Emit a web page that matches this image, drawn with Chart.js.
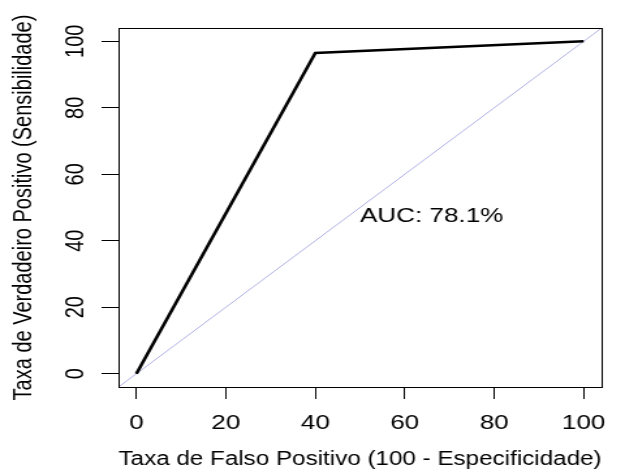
<!DOCTYPE html>
<html>
<head>
<meta charset="utf-8">
<script src="https://cdn.jsdelivr.net/npm/chart.js@4/dist/chart.umd.min.js"></script>
<style>
  html, body { margin: 0; padding: 0; background: #ffffff; overflow: hidden; }
  #wrap { width: 480px; height: 471px; transform: scale(1.3020833, 1); transform-origin: 0 0; }
</style>
</head>
<body>
<div id="wrap"><canvas id="c"></canvas></div>
<script>
// ---- data ----
const fprValues = [0, 40, 100];            // Taxa de Falso Positivo (%)
const tprValues = [0, 96.5, 100];          // Taxa de Verdadeiro Positivo (%)
const identityX = [-4, 104];
const identityY = [-4, 104];
const xTickValues = [0, 20, 40, 60, 80, 100];
const yTickValues = [0, 20, 40, 60, 80, 100];
const aucLabel = 'AUC: 78.1%';
const aucPos = [50, 50];
const xTitle = 'Taxa de Falso Positivo (100 - Especificidade)';
const yTitle = 'Taxa de Verdadeiro Positivo (Sensibilidade)';

const FONT = { family: '"Liberation Sans", Arial, sans-serif', size: 20 };

const rocPoints = fprValues.map((x, i) => ({ x: x, y: tprValues[i] }));
const idPoints = identityX.map((x, i) => ({ x: x, y: identityY[i] }));

const framePlugin = {
  id: 'frame',
  afterDatasetsDraw(chart) {
    const { ctx, chartArea: a, scales } = chart;
    ctx.save();
    ctx.strokeStyle = '#000';
    ctx.lineWidth = 1;
    ctx.strokeRect(Math.round(a.left) + 0.5, Math.round(a.top) + 0.5,
                   Math.round(a.right - a.left), Math.round(a.bottom - a.top));
    // AUC annotation
    ctx.fillStyle = '#000';
    ctx.font = FONT.size + 'px ' + FONT.family;
    ctx.textAlign = 'left';
    ctx.textBaseline = 'top';
    ctx.fillText(aucLabel, scales.x.getPixelForValue(aucPos[0]),
                 scales.y.getPixelForValue(aucPos[1]) - 1.5);
    ctx.restore();
  }
};

new Chart(document.getElementById('c'), {
  type: 'scatter',
  data: {
    datasets: [
      {
        data: idPoints, showLine: true, borderColor: '#aeb0e4', borderWidth: 1,
        pointRadius: 0, order: 2
      },
      {
        data: rocPoints, showLine: true, borderColor: '#000000', borderWidth: 2.6,
        pointRadius: 0, order: 1, borderJoinStyle: 'miter'
      }
    ]
  },
  options: {
    responsive: true,
    maintainAspectRatio: false,
    animation: false,
    events: [],
    layout: { padding: { top: 28, right: 18, left: 0, bottom: 0 } },
    plugins: { legend: { display: false }, tooltip: { enabled: false } },
    scales: {
      x: {
        type: 'linear', min: -4, max: 104,
        afterBuildTicks: s => { s.ticks = xTickValues.map(v => ({ value: v })); },
        afterFit: s => { s.height = 84; },
        border: { display: false },
        grid: { drawOnChartArea: false, drawTicks: true, tickLength: 12, color: '#000', lineWidth: 1 },
        ticks: { color: '#000', font: FONT, padding: 12, maxRotation: 0, autoSkip: false },
        title: { display: true, text: xTitle, color: '#000', font: FONT, padding: { top: 4, bottom: 0 } }
      },
      y: {
        type: 'linear', min: -4, max: 104,
        afterBuildTicks: s => { s.ticks = yTickValues.map(v => ({ value: v })); },
        afterFit: s => { s.width = 91; },
        border: { display: false },
        grid: { drawOnChartArea: false, drawTicks: true, tickLength: 13, color: '#000', lineWidth: 1 },
        ticks: { color: '#000', font: FONT, padding: 3, minRotation: 90, maxRotation: 90, crossAlign: 'center', autoSkip: false },
        title: { display: true, text: yTitle, color: '#000', font: FONT, padding: { top: 6.5, bottom: 0 } }
      }
    }
  },
  plugins: [framePlugin]
});
</script>
</body>
</html>
